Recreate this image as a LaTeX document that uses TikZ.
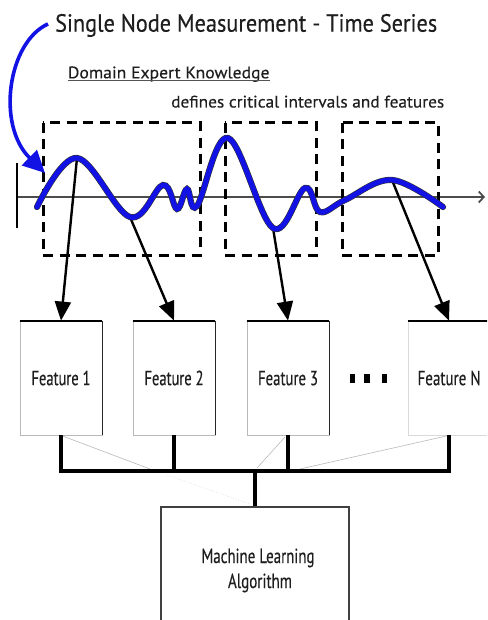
\documentclass[tikz,border=0pt]{standalone}
\usepackage{fontspec}
\setmainfont{PT Sans}[FakeBold=0.35]
\usetikzlibrary{arrows.meta}

\definecolor{waveblue}{RGB}{18,18,228}
\definecolor{ink}{RGB}{30,30,30}

% squeeze a text to a given width, keeping its height
\newcommand\squeeze[2]{\resizebox{#1}{\height}{#2}}

\tikzset{
  txt/.style={inner sep=0pt, text=ink},
  window/.style={draw=black, line width=3pt, dash pattern=on 10pt off 6.5pt},
  pick/.style={draw=black, line width=2.4pt,
    -{Triangle[length=19pt,width=16pt]}},
  featbox/.style={draw=gray!55, line width=0.8pt, minimum width=82pt,
    minimum height=114pt, inner sep=0pt, text height=14.3pt, text depth=0pt,
    font=\fontsize{20.4}{24}\selectfont, text=ink},
  mlbox/.style={draw=black!75, line width=1.3pt, minimum width=188pt,
    minimum height=120pt, inner sep=0pt},
  bus/.style={draw=black, line width=3.6pt, line join=miter},
  faint/.style={draw=gray!55, line width=0.6pt},
}

\begin{document}
\begin{tikzpicture}[x=1pt,y=-1pt]
\useasboundingbox (0,0) rectangle (487,620);
\clip (0,0) rectangle (487,620);

% ---- headings
\node[txt, anchor=base west, font=\fontsize{24.9}{28}\selectfont] (title)
  at (55,31.7) {\squeeze{382pt}{Single Node Measurement - Time Series}};
\node[txt, anchor=base west, font=\fontsize{16.7}{20}\selectfont] (dek)
  at (67.7,78.3) {\squeeze{201.6pt}{Domain Expert Knowledge}};
\draw[gray!65!black, line width=1.5pt]
  ([yshift=-2.2pt]dek.base west) -- ([yshift=-2.2pt]dek.base east);
\node[txt, anchor=base west, font=\fontsize{16.7}{20}\selectfont] (defs)
  at (171,107.5) {\squeeze{273pt}{defines critical intervals and features}};

% ---- time axis
\draw[gray!60!black, line width=1.8pt, -{Straight Barb[length=5pt,width=11pt,line width=1.8pt]}]
  (17,197) -- (485,197);
\draw[black, line width=1.4pt] (17,163) -- (17,228);

% ---- critical intervals
\draw[window] (43,123) rectangle (200,255);
\draw[window] (225,123) rectangle (316,255);
\draw[window] (342,123) rectangle (438,255);

% ---- feature boxes
\node[featbox] (f1) at (61,378) {\squeeze{59pt}{Feature 1}};
\node[featbox] (f2) at (174,378) {\squeeze{59pt}{Feature 2}};
\node[featbox] (f3) at (288,378) {\squeeze{60pt}{Feature 3}};
\node[featbox, draw=gray!30] (fN) at (449,378) {\squeeze{63pt}{Feature N}};
\foreach \b in {f1,f2,f3,fN}{
  \draw[black, line width=2pt] (\b.north west) -- (\b.north east);
}
\foreach \b in {f1,f2,f3}{
  \draw[black!85, line width=1.1pt] (\b.north east) -- (\b.south east);
}

% ellipsis between feature 3 and feature N
\fill[black] (349.5,374) rectangle (354.5,383);
\fill[black] (364,374) rectangle (370,383);
\fill[black] (381.5,374) rectangle (386.5,383);

% ---- points picked on the signal
\coordinate (pk1) at (77,158);
\coordinate (tr1) at (130,217);
\coordinate (tr2) at (273,228);
\coordinate (pk3) at (392,180);

\draw[pick] (pk1) -- (f1.north);
\draw[pick] (tr1) -- (f2.north);
\draw[pick] (tr2) -- (f3.north);
\draw[pick] (pk3) -- (fN.north);

% ---- the measured signal
\def\wave{plot[smooth, tension=0.62] coordinates {
  (37,207) (pk1) (tr1) (163,185) (177,209) (187,189) (197,206)
  (228,138) (tr2) (305,188) (320,212) (345,200) (pk3) (443,207)}}
\draw[black!80, line width=6.2pt, line cap=round] \wave;
\draw[waveblue, line width=5pt, line cap=round] \wave;

% ---- pointer from the heading to the signal
\coordinate (arcend) at (45,173);
\draw[waveblue, line width=3.6pt, -{Triangle[length=22pt,width=21pt]}]
  ([xshift=-7pt,yshift=1.5pt]title.west) .. controls (8,42) and (-4,125) .. (arcend);

% ---- faint guide lines behind the bus
\draw[faint] (f1.south) -- (150,469);
\draw[faint] (285,437) -- (257,468);
\draw[faint] (fN.south) -- (300,469);
\draw[gray!35, line width=0.6pt, dotted] (167,475) -- (250,504);

% ---- machine learning block
\node[mlbox] (ml) at (255,567) {};
\node[txt, anchor=base, font=\fontsize{20.4}{24}\selectfont] (mlt1)
  at (258,563) {\squeeze{113pt}{Machine Learning}};
\node[txt, anchor=base, font=\fontsize{20.4}{24}\selectfont] (mlt2)
  at (260,588) {\squeeze{64pt}{Algorithm}};

% ---- combining bus
\coordinate (busy) at (255,471);
\draw[bus] (f1.south) -- (f1.south |- busy) -| (fN.south);
\draw[bus] (f2.south) -- (f2.south |- busy);
\draw[bus] (f3.south) -- (f3.south |- busy);
\draw[bus] (busy) -- (ml.north);
\end{tikzpicture}
\end{document}
